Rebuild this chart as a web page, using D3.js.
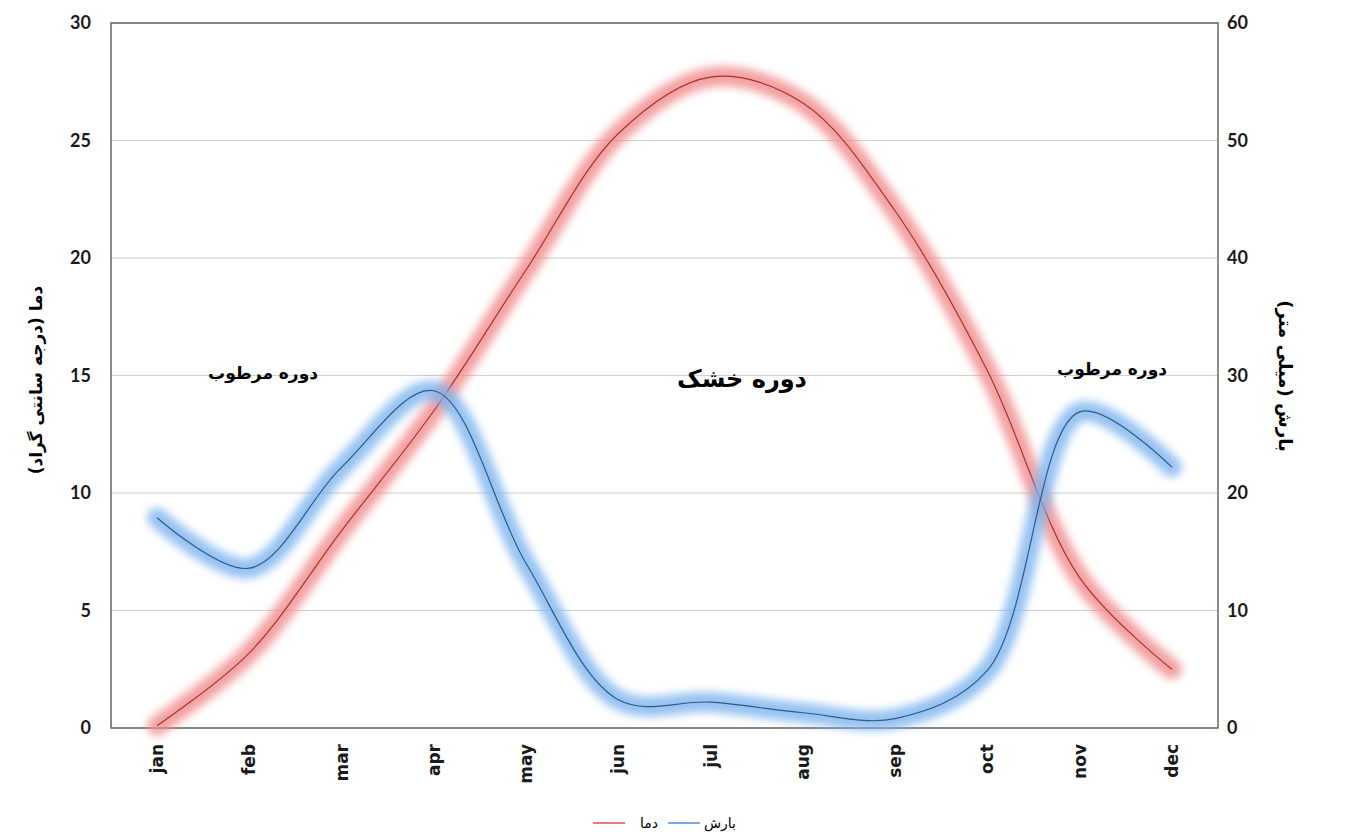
<!DOCTYPE html>
<html>
<head>
<meta charset="utf-8">
<title>climate chart</title>
<style>
  body { margin: 0; background: #fff; }
  text { font-family: Lato, "Open Sans", sans-serif; }
  .fa { font-family: "DejaVu Sans", sans-serif; }
</style>
</head>
<body>
<script src="https://d3js.org/d3.v7.min.js"></script>
<script>
// data
var months = ["jan", "feb", "mar", "apr", "may", "jun", "jul", "aug", "sep", "oct", "nov", "dec"];
var temp = [0.1, 3.2, 8.4, 13.5, 19.5, 25.3, 27.7, 26.6, 22.0, 15.2, 6.4, 2.5];   // دما
var rain = [17.9, 13.6, 22.2, 28.7, 14.0, 2.4, 2.2, 1.3, 0.8, 4.9, 26.9, 22.2];  // بارش
var leftTicks = [0, 5, 10, 15, 20, 25, 30];
var rightTicks = [0, 10, 20, 30, 40, 50, 60];

const width = 1346, height = 833;
const m = {top: 23, right: 128, bottom: 105, left: 111};

var svg = d3.select("body").append("svg")
    .attr("width", width)
    .attr("height", height);

var defs = svg.append("defs");
defs.append("filter").attr("id", "glow")
    .attr("x", "-10%").attr("y", "-10%").attr("width", "120%").attr("height", "120%")
    .append("feGaussianBlur").attr("stdDeviation", 4.5);

var x = d3.scaleBand().domain(months).range([m.left, width - m.right]);
var yL = d3.scaleLinear().domain([0, 30]).range([height - m.bottom, m.top]);
var yR = d3.scaleLinear().domain([0, 60]).range([height - m.bottom, m.top]);

// grid
svg.append("g").selectAll("line")
    .data(leftTicks)
    .enter().append("line")
    .attr("x1", m.left).attr("x2", width - m.right)
    .attr("y1", d => yL(d)).attr("y2", d => yL(d))
    .attr("stroke", "#cfcfcf").attr("stroke-width", 1.2);

// plot frame
svg.append("rect")
    .attr("x", m.left).attr("y", m.top)
    .attr("width", width - m.right - m.left)
    .attr("height", height - m.bottom - m.top)
    .attr("fill", "none").attr("stroke", "#666").attr("stroke-width", 1.5);

// axes
var axL = svg.append("g").attr("transform", "translate(" + m.left + ",0)")
    .call(d3.axisLeft(yL).tickValues(leftTicks).tickSize(0).tickPadding(20));
var axR = svg.append("g").attr("transform", "translate(" + (width - m.right) + ",0)")
    .call(d3.axisRight(yR).tickValues(rightTicks).tickSize(0).tickPadding(9));
var axB = svg.append("g").attr("transform", "translate(0," + (height - m.bottom) + ")")
    .call(d3.axisBottom(x).tickSize(0));
[axL, axR, axB].forEach(function(a) {
    a.select(".domain").remove();
    a.selectAll("text").attr("font-size", 18).attr("font-weight", "bold")
        .attr("fill", "#1a1a1a").style("font-family", "Lato, sans-serif");
});
axB.selectAll("text")
    .style("font-family", "'DejaVu Sans', sans-serif")
    .attr("font-size", 17)
    .attr("transform", "rotate(-90)")
    .attr("x", -16).attr("y", 0).attr("dy", "0.35em")
    .style("text-anchor", "end");

// lines
var lineT = d3.line().x(d => x(d[0]) + x.bandwidth() / 2).y(d => yL(d[1])).curve(d3.curveCatmullRom.alpha(0.5));
var lineR = d3.line().x(d => x(d[0]) + x.bandwidth() / 2).y(d => yR(d[1])).curve(d3.curveCatmullRom.alpha(0.5));
var tData = months.map((mo, i) => [mo, temp[i]]);
var rData = months.map((mo, i) => [mo, rain[i]]);

function drawSeries(data, gen, glowColor, coreColor) {
    svg.append("path").datum(data)
        .attr("d", gen)
        .attr("fill", "none")
        .attr("stroke", glowColor)
        .attr("stroke-width", 20)
        .attr("stroke-linecap", "round")
        .attr("opacity", 0.8)
        .attr("filter", "url(#glow)");
    svg.append("path").datum(data)
        .attr("d", gen)
        .attr("fill", "none")
        .attr("stroke", coreColor)
        .attr("stroke-width", 1.2);
}
drawSeries(tData, lineT, "#f08a8a", "#a8323a");
drawSeries(rData, lineR, "#7db3ee", "#2e5b87");

// annotations
svg.append("text").attr("class", "fa").attr("x", 263).attr("y", 379)
    .attr("text-anchor", "middle").attr("font-size", 17).attr("font-weight", "bold")
    .text("دوره مرطوب");
svg.append("text").attr("class", "fa").attr("x", 742).attr("y", 387)
    .attr("text-anchor", "middle").attr("font-size", 24).attr("font-weight", "bold")
    .text("دوره خشک");
svg.append("text").attr("class", "fa").attr("x", 1112).attr("y", 375)
    .attr("text-anchor", "middle").attr("font-size", 17).attr("font-weight", "bold")
    .text("دوره مرطوب");

// axis titles
svg.append("text").attr("class", "fa")
    .attr("transform", "translate(42,380) rotate(-90)")
    .attr("text-anchor", "middle").attr("font-size", 17).attr("font-weight", "bold")
    .text("دما (درجه سانتی گراد)");
svg.append("text").attr("class", "fa")
    .attr("transform", "translate(1279,376) rotate(90)")
    .attr("text-anchor", "middle").attr("font-size", 18).attr("font-weight", "bold")
    .text("بارش (میلی متر)");

// legend
var lg = svg.append("g").attr("transform", "translate(0,823)");
lg.append("line").attr("x1", 593).attr("x2", 625).attr("y1", 0).attr("y2", 0)
    .attr("stroke", "#d9534f").attr("stroke-width", 1.5);
lg.append("text").attr("class", "fa").attr("x", 658).attr("y", 5)
    .attr("text-anchor", "end").attr("font-size", 14).text("دما");
lg.append("line").attr("x1", 668).attr("x2", 700).attr("y1", 0).attr("y2", 0)
    .attr("stroke", "#4a90d9").attr("stroke-width", 1.5);
lg.append("text").attr("class", "fa").attr("x", 704).attr("y", 5)
    .attr("text-anchor", "start").attr("font-size", 14).text("بارش");
</script>
</body>
</html>
